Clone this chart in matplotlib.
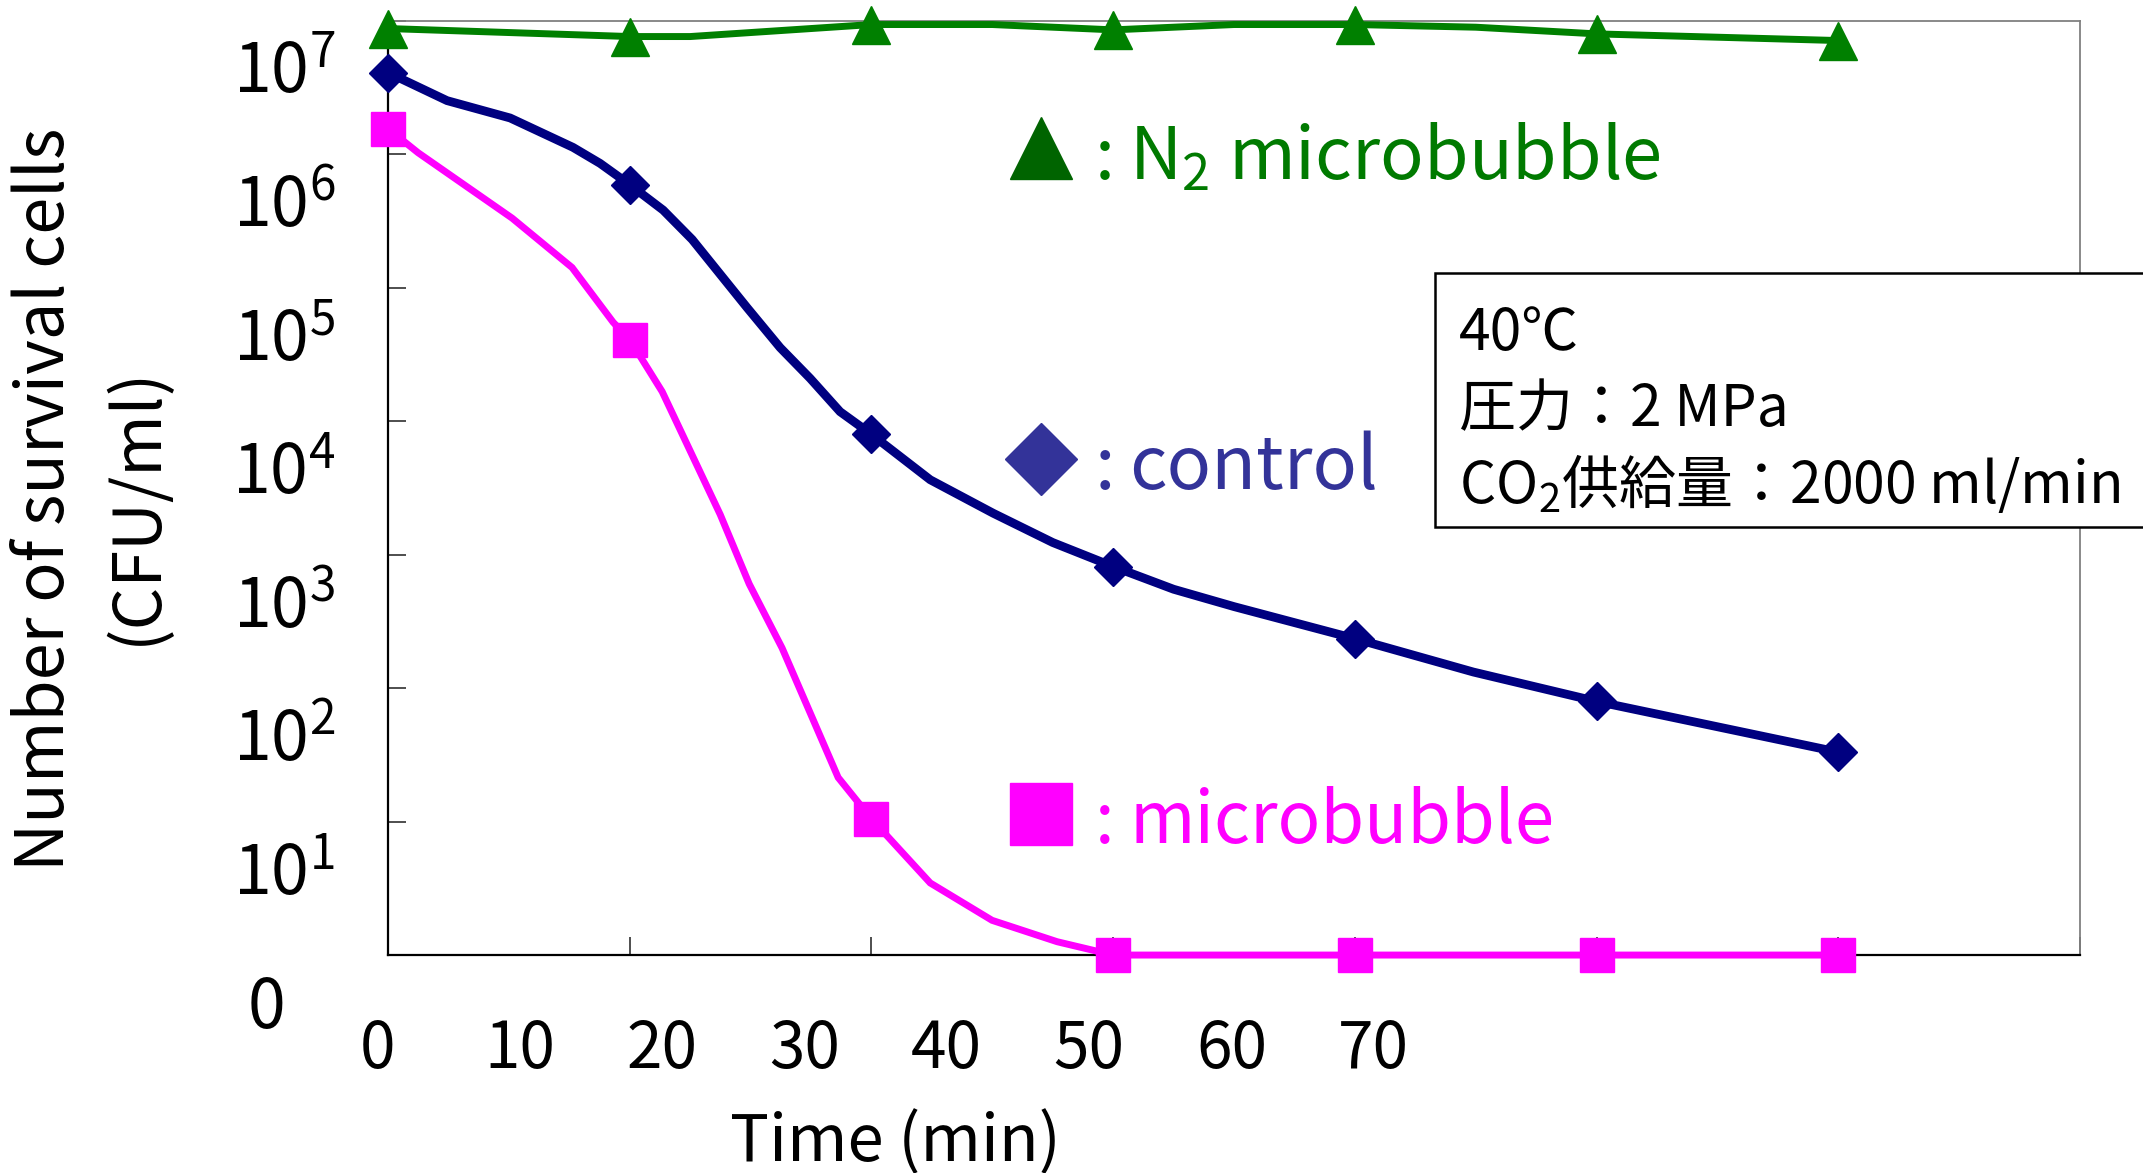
import matplotlib.pyplot as plt
from matplotlib.patches import Rectangle

plt.rcParams['font.family'] = ['Noto Sans CJK JP', 'DejaVu Sans']
plt.rcParams['mathtext.fontset'] = 'custom'
plt.rcParams['mathtext.rm'] = 'Noto Sans CJK JP'
plt.rcParams['mathtext.it'] = 'Noto Sans CJK JP'
plt.rcParams['mathtext.bf'] = 'Noto Sans CJK JP'
plt.rcParams['mathtext.default'] = 'rm'

# Sampling points, one per interval on the x axis
samples = [0, 1, 2, 3, 4, 5, 6]

# log10 of surviving cells (CFU/ml); 0 means none detected
n2_log = [6.94, 6.88, 6.97, 6.93, 6.97, 6.90, 6.85]
control_log = [6.61, 5.77, 3.90, 2.91, 2.37, 1.90, 1.52]
micro_log = [6.19, 4.61, 1.02, 0.0, 0.0, 0.0, 0.0]

# Smoothed curves drawn through the measured points
n2_curve_x = [0, 1, 1.25, 2, 2.5, 3, 3.5, 4, 4.5, 5, 6]
n2_curve_y = [6.94, 6.88, 6.88, 6.97, 6.97, 6.93, 6.97, 6.97, 6.95, 6.90, 6.85]

control_curve_x = [0, 0.244, 0.505, 0.765, 0.877, 1.0, 1.138, 1.258, 1.485,
                   1.622, 1.746, 1.870, 2.0, 2.243, 2.503, 2.75, 3.0, 3.25,
                   3.5, 4.0, 4.49, 5.0, 6.0]
control_curve_y = [6.61, 6.40, 6.27, 6.05, 5.93, 5.77, 5.58, 5.36, 4.85,
                   4.55, 4.32, 4.07, 3.90, 3.56, 3.31, 3.09, 2.91, 2.74,
                   2.61, 2.37, 2.12, 1.90, 1.52]

micro_curve_x = [0, 0.124, 0.513, 0.761, 0.931, 1.0, 1.134, 1.374, 1.494,
                 1.63, 1.862, 2.0, 2.243, 2.499, 2.768, 3.0, 4.0, 5.0, 6.0]
micro_curve_y = [6.19, 6.01, 5.52, 5.15, 4.74, 4.61, 4.22, 3.30, 2.78,
                 2.30, 1.33, 1.02, 0.54, 0.26, 0.10, 0.0, 0.0, 0.0, 0.0]

x_labels = ['0', '10', '20', '30', '40', '50', '60', '70']
y_labels = ['0'] + [r'$10^{%d}$' % n for n in range(1, 8)]

green = '#008000'
navy = '#000080'
magenta = '#ff00ff'

fig = plt.figure(figsize=(21.43, 11.73), dpi=100)
ax = fig.add_axes([0.1811, 0.1858, 0.7895, 0.7967])
ax.set_xlim(0, 7)
ax.set_ylim(0, 7)

# curves
ax.plot(micro_curve_x, micro_curve_y, color=magenta, lw=5.0, clip_on=False,
        solid_joinstyle='miter', zorder=3)
ax.plot(control_curve_x, control_curve_y, color=navy, lw=6.3, clip_on=False,
        solid_joinstyle='miter', zorder=3)
ax.plot(n2_curve_x, n2_curve_y, color=green, lw=5.0, clip_on=False,
        solid_joinstyle='miter', zorder=3)

# measured points
ax.plot(samples, micro_log, ls='none', marker='s', ms=25, color=magenta,
        mec=magenta, clip_on=False, zorder=4)
ax.plot(samples, control_log, ls='none', marker='D', ms=19.3, color=navy,
        mec=navy, clip_on=False, zorder=4)
ax.plot(samples, n2_log, ls='none', marker='^', ms=28, color=green,
        mec=green, clip_on=False, zorder=4)

# axes frame
for side in ['top', 'right']:
    ax.spines[side].set_color('#808080')
    ax.spines[side].set_linewidth(1.3)
for side in ['left', 'bottom']:
    ax.spines[side].set_color('black')
    ax.spines[side].set_linewidth(1.6)

ax.set_xticks(range(0, 8))
ax.set_yticks(range(0, 8))
ax.set_xticklabels([])
ax.set_yticklabels([])
ax.tick_params(direction='in', length=13, width=1.2, color='#303030')

# tick texts, set apart from the tick marks
for i, lab in enumerate(x_labels):
    ax.text(-0.0065 + 0.08416 * i, -0.121, lab, transform=ax.transAxes,
            ha='center', va='baseline', fontsize=46)
for i, lab in enumerate(y_labels):
    xpos = -0.072 if i == 0 else -0.0615
    ax.text(xpos, i - 0.55, lab, transform=ax.get_yaxis_transform(),
            ha='center', va='baseline', fontsize=49)

fig.text(0.021, 0.5746, 'Number of survival cells', rotation=90,
         ha='center', va='center', fontsize=48)
fig.text(0.064, 0.5695, '(CFU/ml)', rotation=90,
         ha='center', va='center', fontsize=48)
fig.text(0.4176, 0.010, 'Time (min)', ha='center', va='baseline',
         fontsize=47)

# series keys: marker, colon, name
keys = [
    ('^', 45, '#006400', '#007a00', 0.8636, 0.8304, 'N$_2$ microbubble', 52),
    ('D', 36.6, '#333399', '#333399', 0.5308, 0.4987, 'control', 53),
    ('s', 44.6, magenta, magenta, 0.1509, 0.1199, 'microbubble', 51),
]
for mk, ms, mcol, tcol, ym, yt, name, fs in keys:
    ax.plot([0.386], [ym], transform=ax.transAxes, marker=mk, ms=ms,
            color=mcol, ls='none', clip_on=False)
    ax.text(0.4175, yt, ':', transform=ax.transAxes, color=tcol,
            fontsize=fs, va='baseline')
    ax.text(0.438, yt, name, transform=ax.transAxes, color=tcol,
            fontsize=fs, va='baseline')

# experimental conditions box
fig.add_artist(Rectangle((0.6696, 0.5507), 0.4, 0.2166,
                         transform=fig.transFigure, facecolor='white',
                         edgecolor='black', lw=1.8, zorder=5))
cond_lines = ['40℃', '圧力：2 MPa', 'CO$_2$供給量：2000 ml/min']
for j, line in enumerate(cond_lines):
    fig.text(0.6808, 0.7016 - 0.0652 * j, line, ha='left', va='baseline',
             fontsize=41, zorder=6)

fig.savefig('out.png', dpi=100)
